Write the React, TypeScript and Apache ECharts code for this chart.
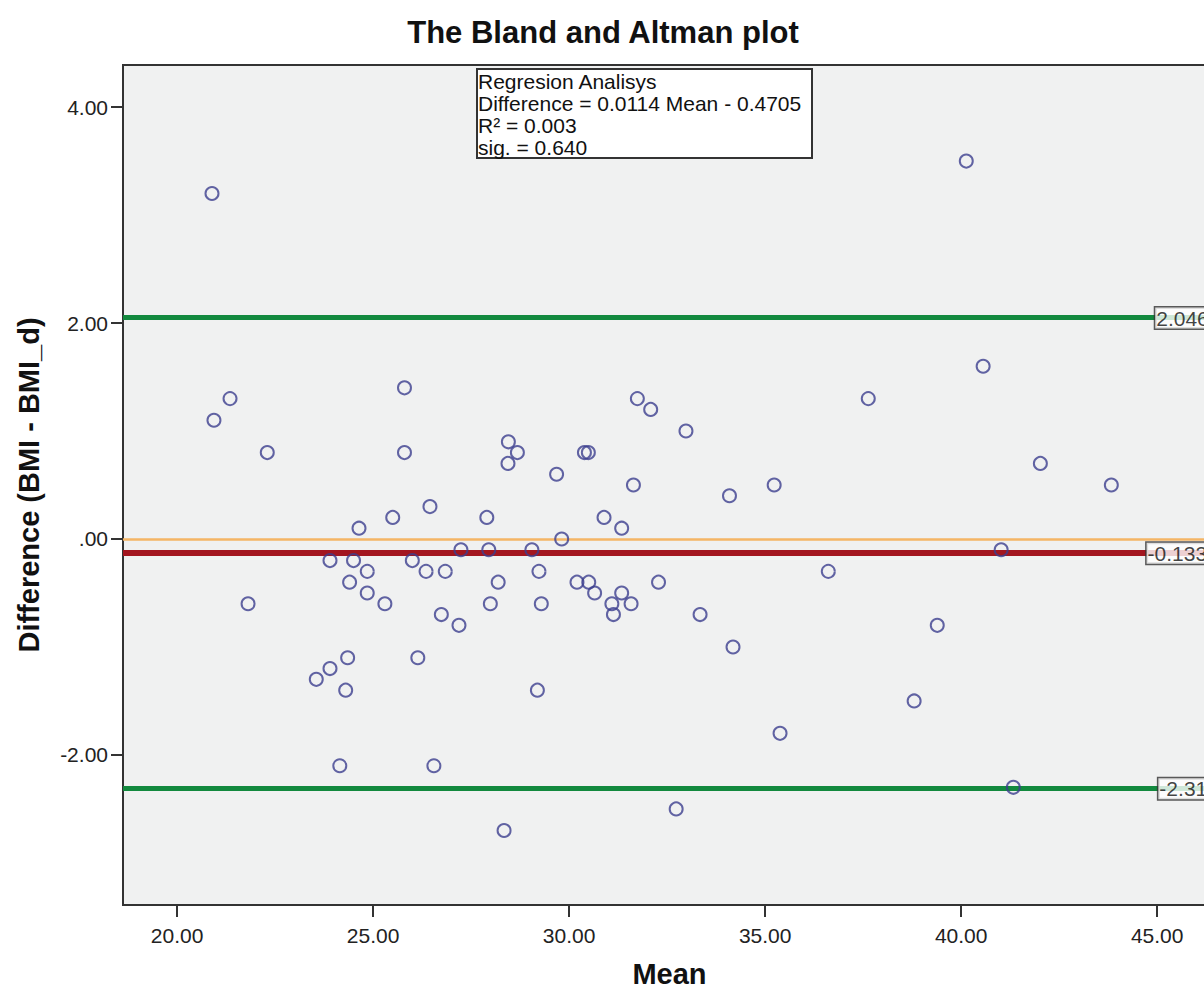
import React, { useEffect, useRef } from "react";
import * as echarts from "echarts";

const meanValues = [
  20.89, 20.94, 21.35, 22.3, 21.81, 23.55, 23.9, 23.9, 24.15, 24.3, 24.35, 24.4, 24.5, 24.64, 24.85,
  24.85, 25.3, 25.5, 25.8, 25.8, 26.0, 26.14, 26.35, 26.45, 26.55, 26.74, 26.84, 27.19, 27.24, 27.9,
  27.95, 27.99, 28.19, 28.34, 28.44, 28.45, 28.68, 29.05, 29.19, 29.23, 29.29, 29.68, 29.81, 30.2,
  30.39, 30.49, 30.5, 30.65, 30.89, 31.09, 31.13, 31.34, 31.34, 31.58, 31.64, 31.74, 32.08, 32.28,
  32.73, 32.98, 33.34, 34.09, 34.18, 35.23, 35.38, 36.61, 37.63, 38.8, 39.39, 40.13, 40.56, 41.02,
  41.33, 42.02, 43.83,
];
const diffValues = [
  3.2, 1.1, 1.3, 0.8, -0.6, -1.3, -1.2, -0.2, -2.1, -1.4, -1.1, -0.4, -0.2, 0.1, -0.3,
  -0.5, -0.6, 0.2, 1.4, 0.8, -0.2, -1.1, -0.3, 0.3, -2.1, -0.7, -0.3, -0.8, -0.1, 0.2,
  -0.1, -0.6, -0.4, -2.7, 0.7, 0.9, 0.8, -0.1, -1.4, -0.3, -0.6, 0.6, 0.0, -0.4,
  0.8, 0.8, -0.4, -0.5, 0.2, -0.6, -0.7, 0.1, -0.5, -0.6, 0.5, 1.3, 1.2, -0.4,
  -2.5, 1.0, -0.7, 0.4, -1.0, 0.5, -1.8, -0.3, 1.3, -1.5, -0.8, 3.5, 1.6, -0.1,
  -2.3, 0.7, 0.5,
];

const upperLimit = 2.046;
const meanDiff = -0.133;
const lowerLimit = -2.313;
const zeroLine = 0;

const limitLabelTexts = ["2.046", "-0.133", "-2.31"];
const limitLabelX = [44.95, 44.73, 45.03];
const limitLabelY = [upperLimit, meanDiff, lowerLimit];

const xTicks = [20, 25, 30, 35, 40, 45];
const yTicks = [-2, 0, 2, 4];

const regressionLines = [
  "Regresion Analisys",
  "Difference = 0.0114 Mean - 0.4705",
  "R\u00B2 = 0.003",
  "sig. = 0.640",
];

const FONT = "'Liberation Sans', Arial, sans-serif";

export default function App() {
  const ref = useRef<HTMLDivElement>(null);
  useEffect(() => {
    if (!ref.current) return;
    const chart = echarts.init(ref.current, undefined, { renderer: "svg" });
    const points = meanValues.map((m, i) => [m, diffValues[i]]);
    const labelData = limitLabelTexts.map((t, i) => ({
      value: [limitLabelX[i], limitLabelY[i]],
      name: t,
    }));
    chart.setOption({
      animation: false,
      backgroundColor: "#ffffff",
      title: {
        text: "The Bland and Altman plot",
        left: 598,
        textAlign: "center",
        top: 12,
        textStyle: { fontFamily: FONT, fontWeight: "bold", fontSize: 31, color: "#111" },
      },
      grid: {
        left: 123,
        top: 65,
        width: 1093,
        height: 840,
        containLabel: false,
        outerBoundsMode: "none",
        show: true,
        backgroundColor: "#f0f1f1",
        borderColor: "#333",
        borderWidth: 2,
      },
      xAxis: {
        type: "value",
        min: 18.62,
        max: 46.5,
        name: "Mean",
        nameLocation: "middle",
        nameGap: 54,
        nameTextStyle: { fontFamily: FONT, fontWeight: "bold", fontSize: 29, color: "#111" },
        axisLine: { show: false, onZero: false },
        axisTick: {
          show: true,
          length: 12,
          customValues: xTicks,
          lineStyle: { color: "#333", width: 2 },
        },
        splitLine: { show: false },
        axisLabel: {
          customValues: xTicks,
          fontFamily: FONT,
          fontSize: 21,
          color: "#222",
          margin: 20,
          formatter: (v: number) => v.toFixed(2),
        },
      },
      yAxis: {
        type: "value",
        min: -3.39,
        max: 4.39,
        name: "Difference (BMI - BMI_d)",
        nameLocation: "middle",
        nameGap: 80,
        nameTextStyle: { fontFamily: FONT, fontWeight: "bold", fontSize: 29, color: "#111" },
        axisLine: { show: false, onZero: false },
        axisTick: {
          show: true,
          length: 12,
          customValues: yTicks,
          lineStyle: { color: "#333", width: 2 },
        },
        splitLine: { show: false },
        axisLabel: {
          customValues: yTicks,
          fontFamily: FONT,
          fontSize: 21,
          color: "#222",
          margin: 15,
          formatter: (v: number) => (Math.abs(v) < 1e-9 ? ".00" : v.toFixed(2)),
        },
      },
      series: [
        {
          type: "line",
          data: [],
          silent: true,
          markLine: {
            silent: true,
            symbol: "none",
            label: { show: false },
            data: [
              { yAxis: zeroLine, lineStyle: { color: "#f5b565", width: 2.5, type: "solid" } },
              { yAxis: meanDiff, lineStyle: { color: "#a3161f", width: 6, type: "solid" } },
              { yAxis: upperLimit, lineStyle: { color: "#12893e", width: 5, type: "solid" } },
              { yAxis: lowerLimit, lineStyle: { color: "#12893e", width: 5, type: "solid" } },
            ],
          },
        },
        {
          type: "scatter",
          data: points,
          symbol: "circle",
          symbolSize: 13,
          itemStyle: { color: "rgba(0,0,0,0)", borderColor: "#3c3f8f", borderWidth: 2 },
          z: 5,
        },
        {
          type: "scatter",
          data: labelData,
          symbolSize: 0,
          silent: true,
          z: 6,
          label: {
            show: true,
            position: "right",
            distance: 0,
            formatter: (p: any) => p.name,
            fontFamily: FONT,
            fontSize: 21,
            color: "#111",
            backgroundColor: "#ffffff",
            borderColor: "#333",
            borderWidth: 1.5,
            padding: [0, 12, 0, 1],
          },
        },
      ],
      graphic: [
        {
          type: "rect",
          shape: { x: 477, y: 69, width: 335, height: 89 },
          style: { fill: "#ffffff", stroke: "#333", lineWidth: 2 },
          z: 10,
        },
        {
          type: "text",
          x: 478,
          y: 70,
          z: 11,
          style: {
            text: regressionLines.join("\n"),
            fontFamily: FONT,
            fontSize: 21,
            lineHeight: 22,
            fill: "#111",
          },
        },
      ],
    });
    return () => chart.dispose();
  }, []);
  return (
    <div
      ref={ref}
      style={{ position: "absolute", left: 0, top: 0, width: 1204, height: 990 }}
    />
  );
}
